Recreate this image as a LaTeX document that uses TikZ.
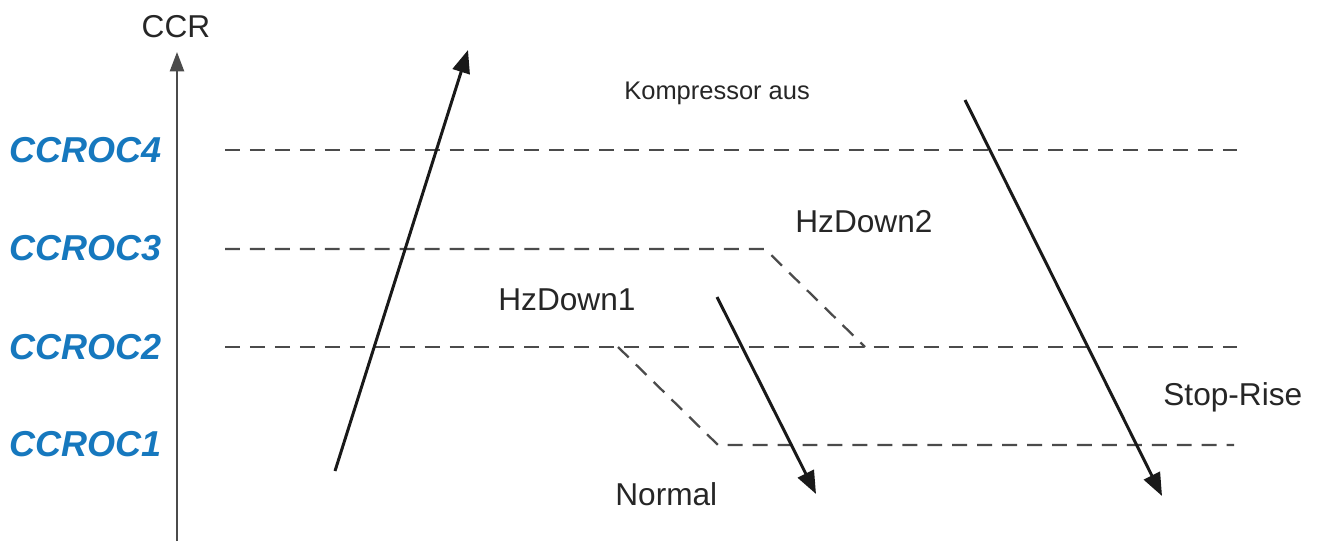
\documentclass[tikz,border=0pt]{standalone}
\usepackage{fontspec}
\setmainfont{Liberation Sans}
\usetikzlibrary{arrows.meta}
\definecolor{levelblue}{RGB}{22,120,190}
\definecolor{linegray}{RGB}{75,75,75}
\tikzstyle{level} = [text=levelblue, font=\fontsize{20.5}{22}\selectfont\bfseries\itshape, anchor=west, inner sep=0pt]
\tikzstyle{lbl} = [font=\fontsize{18}{20}\selectfont, anchor=west, inner sep=0pt, text=black!85]
\tikzstyle{small} = [font=\fontsize{14.5}{16}\selectfont, anchor=west, inner sep=0pt, text=black!85]
\tikzstyle{limit} = [linegray, line width=1.3pt, dash pattern=on 8.5pt off 5.7pt]
\tikzstyle{arrow} = [black!90, line width=1.7pt, -{Triangle[length=13pt,width=10pt]}]
\tikzstyle{axis} = [linegray, line width=1.2pt, -{Triangle[length=11pt,width=8pt]}]

\begin{document}
\begin{tikzpicture}[x=0.02cm, y=-0.02cm]
  \useasboundingbox (0,0) rectangle (1322,541);

  % axis
  \node (ccr) [lbl, anchor=center] at (176,27) {CCR};
  \coordinate (axisbot) at (177,541);
  \coordinate (axistop) at (177,52);
  \draw [axis] (axisbot) -- (axistop);

  % levels
  \node (oc4) [level] at (9,150) {CCROC4};
  \node (oc3) [level] at (9,248) {CCROC3};
  \node (oc2) [level] at (9,347) {CCROC2};
  \node (oc1) [level] at (9,444) {CCROC1};

  \coordinate (l4a) at (225,150); \coordinate (l4b) at (1237,150);
  \coordinate (l3a) at (225,249); \coordinate (l3b) at (765,249);
  \coordinate (l2a) at (225,347); \coordinate (l2b) at (1237,347);
  \coordinate (k3) at (865,347);
  \coordinate (k2) at (618,347);
  \coordinate (l1a) at (718,445); \coordinate (l1b) at (1234,445);

  \draw [limit] (l4a) -- (l4b);
  \draw [limit] (l3a) -- (l3b) -- (k3);
  \draw [limit] (l2a) -- (l2b);
  \draw [limit] (k2) -- (l1a) -- (l1b);

  % texts
  \node (komp) [small] at (624,93) {Kompressor aus};
  \node (hz2) [lbl] at (795,222) {HzDown2};
  \node (hz1) [lbl] at (498,300) {HzDown1};
  \node (norm) [lbl] at (615,494) {Normal};
  \node (stop) [lbl] at (1163,397) {Stop-Rise};

  % arrows
  \coordinate (upa) at (335,471); \coordinate (upb) at (468,50);
  \coordinate (da) at (717,297); \coordinate (db) at (816,494);
  \coordinate (sa) at (965,100); \coordinate (sb) at (1162,496);
  \draw [arrow] (upa) -- (upb);
  \draw [arrow] (da) -- (db);
  \draw [arrow] (sa) -- (sb);
\end{tikzpicture}
\end{document}
